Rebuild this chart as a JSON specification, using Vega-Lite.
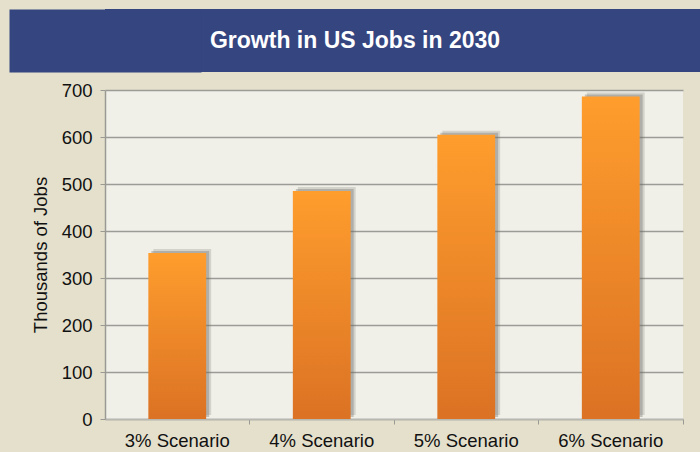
{
  "$schema": "https://vega.github.io/schema/vega-lite/v6.json",
  "background": "#e4e0cc",
  "padding": {"left": 8, "top": 9, "right": 0, "bottom": 3},
  "spacing": 9,
  "config": {"font": "Liberation Sans", "view": {"stroke": null}},
  "vconcat": [
    {
      "width": 596,
      "height": 63,
      "view": {"fill": "#35457f", "stroke": null},
      "data": {"values": [{"t": "Growth in US Jobs in 2030"}]},
      "mark": {"type": "text", "color": "#ffffff", "fontSize": 23, "fontWeight": "bold", "font": "Liberation Sans", "baseline": "middle", "align": "center", "dx": -48},
      "encoding": {
        "text": {"field": "t", "type": "nominal"},
        "y": {"field": "t", "type": "nominal", "axis": {"title": null, "labels": false, "ticks": false, "grid": false, "domain": true, "domainColor": "#35457f", "domainWidth": 192, "domainCap": "butt"}}
      }
    },
    {
      "width": 578,
      "height": 329,
      "view": {"fill": "#f0efe8", "stroke": null},
      "data": {"values": [
        {"scenario": "3% Scenario", "jobs": 353},
        {"scenario": "4% Scenario", "jobs": 485},
        {"scenario": "5% Scenario", "jobs": 605},
        {"scenario": "6% Scenario", "jobs": 686}
      ]},
      "encoding": {
        "y": {
          "field": "jobs", "type": "quantitative",
          "scale": {"domain": [0, 700], "nice": false},
          "axis": {
            "values": [0, 100, 200, 300, 400, 500, 600, 700],
            "title": ["", "Thousands of Jobs"],
            "titleLineHeight": 23,
            "titleFontSize": 18.5, "titleFontWeight": "normal", "titleColor": "#111111", "titlePadding": 11,
            "labelFontSize": 18.5, "labelColor": "#111111", "labelPadding": 8,
            "tickSize": 5, "tickColor": "#9a9a94", "domainColor": "#9a9a94", "domainWidth": 1.5,
            "gridColor": "#9c9c96", "gridWidth": 1.5
          }
        }
      },
      "layer": [
        {
          "mark": {"type": "bar", "color": "#6e6e66", "opacity": 0.22, "xOffset": 5, "yOffset": -4},
          "encoding": {
            "x": {
              "field": "scenario", "type": "nominal", "sort": null,
              "scale": {"paddingInner": 0.6, "paddingOuter": 0.3},
              "axis": {"orient": "bottom", "title": null, "labelAngle": 0, "ticks": false, "domain": false, "grid": false, "labelFontSize": 18.5, "labelColor": "#111111", "labelPadding": 12}
            }
          }
        },
        {
          "mark": {"type": "bar", "color": "#6e6e66", "opacity": 0.35, "xOffset": 3, "yOffset": -2},
          "encoding": {
            "x": {"field": "scenario", "type": "nominal", "sort": null, "axis": null}
          }
        },
        {
          "mark": {"type": "bar", "color": {"gradient": "linear", "x1": 0, "y1": 0, "x2": 0, "y2": 1, "stops": [{"offset": 0, "color": "#ff9d2d"}, {"offset": 1, "color": "#db7224"}]}},
          "encoding": {
            "x": {
              "field": "scenario", "type": "nominal", "sort": null,
              "axis": {"orient": "bottom", "title": null, "labels": false, "grid": false, "ticks": true, "tickSize": 5, "tickColor": "#9a9a94", "domain": true, "domainColor": "#b8b8b0", "domainWidth": 1.5, "bandPosition": 1.75}
            }
          }
        }
      ],
      "resolve": {"axis": {"x": "independent"}}
    }
  ]
}
